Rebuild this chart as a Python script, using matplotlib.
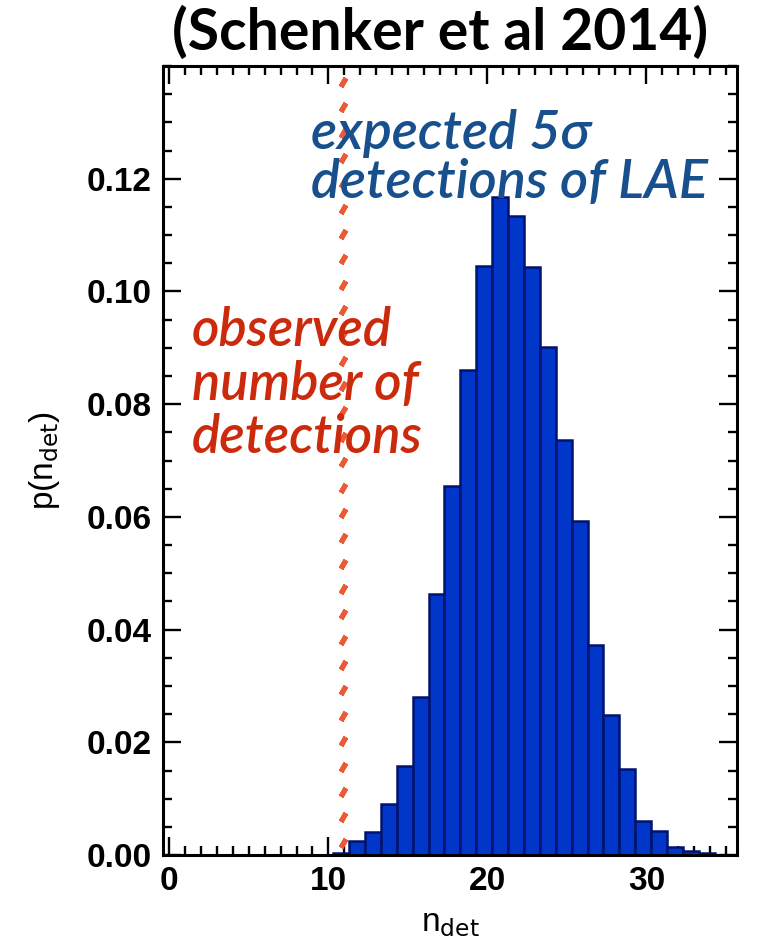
import numpy as np
import matplotlib
matplotlib.use("Agg")
import matplotlib.pyplot as plt
from matplotlib.ticker import MultipleLocator

# --- data ---
bin_left = [10.3, 11.3, 12.3, 13.3, 14.3, 15.3, 16.3, 17.3, 18.3, 19.3, 20.3, 21.3,
            22.3, 23.3, 24.3, 25.3, 26.3, 27.3, 28.3, 29.3, 30.3, 31.3, 32.3, 33.3]
p_ndet = [0.0003, 0.0025, 0.0040, 0.0091, 0.0158, 0.0281, 0.0463, 0.0655, 0.0860,
          0.1045, 0.1168, 0.1133, 0.1044, 0.0902, 0.0736, 0.0593, 0.0373, 0.0248,
          0.0153, 0.0061, 0.0043, 0.0014, 0.0008, 0.0003]
n_observed = 10.9
x_ticks = [0, 10, 20, 30]
y_ticks = [0.00, 0.02, 0.04, 0.06, 0.08, 0.10, 0.12]

fig = plt.figure(figsize=(7.74, 9.51), dpi=100)
ax = fig.add_axes([0.2106, 0.1009, 0.7416, 0.8297])

ax.bar(bin_left, p_ndet, width=1.0, align="edge",
       color="#0036c9", edgecolor="#00146e", linewidth=1.8, zorder=2)

# observed number of detections: slanted red dashes
ys = np.arange(0.0022, 0.14, 0.0045)
ax.plot(np.full_like(ys, n_observed), ys, ls="none", marker=(2, 2, -30),
        markersize=7, mew=3.6, color="#ea5a35", zorder=3)

ax.set_xlim(-0.4, 35.7)
ax.set_ylim(0, 0.14)
ax.set_xticks(x_ticks)
ax.set_yticks(y_ticks)
ax.set_yticklabels(["%.2f" % v for v in y_ticks])
ax.xaxis.set_minor_locator(MultipleLocator(1))
ax.yaxis.set_minor_locator(MultipleLocator(0.005))
ax.tick_params(which="both", direction="in", top=True, right=True, width=1.7)
ax.tick_params(which="major", length=13, labelsize=24)
ax.tick_params(axis="y", which="major", pad=8)
ax.tick_params(axis="x", which="major", pad=8)
ax.tick_params(which="minor", length=6.5)
for lab in ax.get_xticklabels() + ax.get_yticklabels():
    lab.set_fontfamily("Liberation Sans")
    lab.set_fontweight("bold")
for sp in ax.spines.values():
    sp.set_linewidth(2.2)

ax.set_xlabel(r"n$_{\rm det}$", fontsize=24, family="Liberation Sans", labelpad=8)
ax.set_ylabel(r"p(n$_{\rm det}$)", fontsize=24, family="Liberation Sans", labelpad=18)

fig.text(0.568, 0.966, "(Schenker et al 2014)", ha="center", va="center",
         fontsize=41, fontweight="bold", family=["Lato", "DejaVu Sans"])

ax.text(0.258, 0.946, "expected 5σ\ndetections of LAE", transform=ax.transAxes,
        ha="left", va="top", fontsize=39, style="italic", fontweight="semibold",
        color="#17508c", family=["Lato", "DejaVu Sans"], linespacing=1.0, zorder=4)
ax.text(0.05, 0.696, "observed\nnumber of\ndetections", transform=ax.transAxes,
        ha="left", va="top", fontsize=38, style="italic", fontweight="semibold",
        color="#cc2a0c", family=["Lato", "DejaVu Sans"], linespacing=1.12, zorder=4)

fig.savefig("out.png", dpi=100)
